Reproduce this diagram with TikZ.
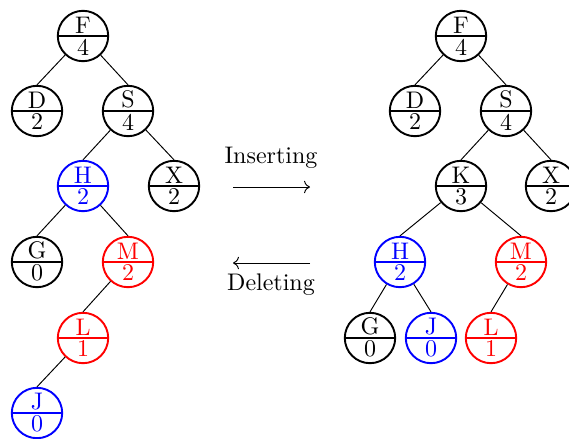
\documentclass[tikz,border=0pt]{standalone}
\usepackage{tikz}
\usetikzlibrary{shapes.multipart,arrows.meta}

\begin{document}
\begin{tikzpicture}[x=0.4167pt,y=-0.4167pt,
              v/.style={circle split,draw,thick,minimum size=21pt,inner sep=0.8pt},
              vb/.style={v,draw=blue,text=blue},
              vr/.style={v,draw=red,text=red},
              lnk/.style={thin}]
              \useasboundingbox (0,0) rectangle (569,439);
              % before
              \node[v] (lf) at (83,36) {F \nodepart{lower} 4};
              \node[v] (ld) at (37,111) {D \nodepart{lower} 2};
              \node[v] (ls) at (128,111) {S \nodepart{lower} 4};
              \node[vb] (lh) at (83,186) {H \nodepart{lower} 2};
              \node[v] (lx) at (174,186) {X \nodepart{lower} 2};
              \node[v] (lg) at (37,262) {G \nodepart{lower} 0};
              \node[vr] (lm) at (128,262) {M \nodepart{lower} 2};
              \node[vr] (ll) at (83,338) {L \nodepart{lower} 1};
              \node[vb] (lj) at (37,413) {J \nodepart{lower} 0};
              \draw[lnk] (lf)--(ld.north) (lf)--(ls.north) (ls)--(lh.north) (ls)--(lx.north)
              (lh)--(lg.north) (lh)--(lm.north) (lm)--(ll.north) (ll)--(lj.north);
              % after
              \node[v] (rf) at (461,36) {F \nodepart{lower} 4};
              \node[v] (rd) at (415,111) {D \nodepart{lower} 2};
              \node[v] (rs) at (506,111) {S \nodepart{lower} 4};
              \node[v] (rk) at (461,186) {K \nodepart{lower} 3};
              \node[v] (rx) at (551,186) {X \nodepart{lower} 2};
              \node[vb] (rh) at (400,262) {H \nodepart{lower} 2};
              \node[vr] (rm) at (521,262) {M \nodepart{lower} 2};
              \node[v] (rg) at (370,338) {G \nodepart{lower} 0};
              \node[vb] (rj) at (431,338) {J \nodepart{lower} 0};
              \node[vr] (rl) at (491,338) {L \nodepart{lower} 1};
              \draw[lnk] (rf)--(rd.north) (rf)--(rs.north) (rs)--(rk.north) (rs)--(rx.north)
              (rk)--(rh.north) (rk)--(rm.north) (rh)--(rg.north) (rh)--(rj.north)
              (rm)--(rl.north);
              % operations
              \node (ins) at (271,158) {Inserting};
              \node (del) at (271,285) {Deleting};
              \coordinate (ia) at (233,187);
              \coordinate (ib) at (310,187);
              \coordinate (da) at (310,263);
              \coordinate (db) at (233,263);
              \draw[->] (ia) -- (ib);
              \draw[->] (da) -- (db);
            \end{tikzpicture}
\end{document}
